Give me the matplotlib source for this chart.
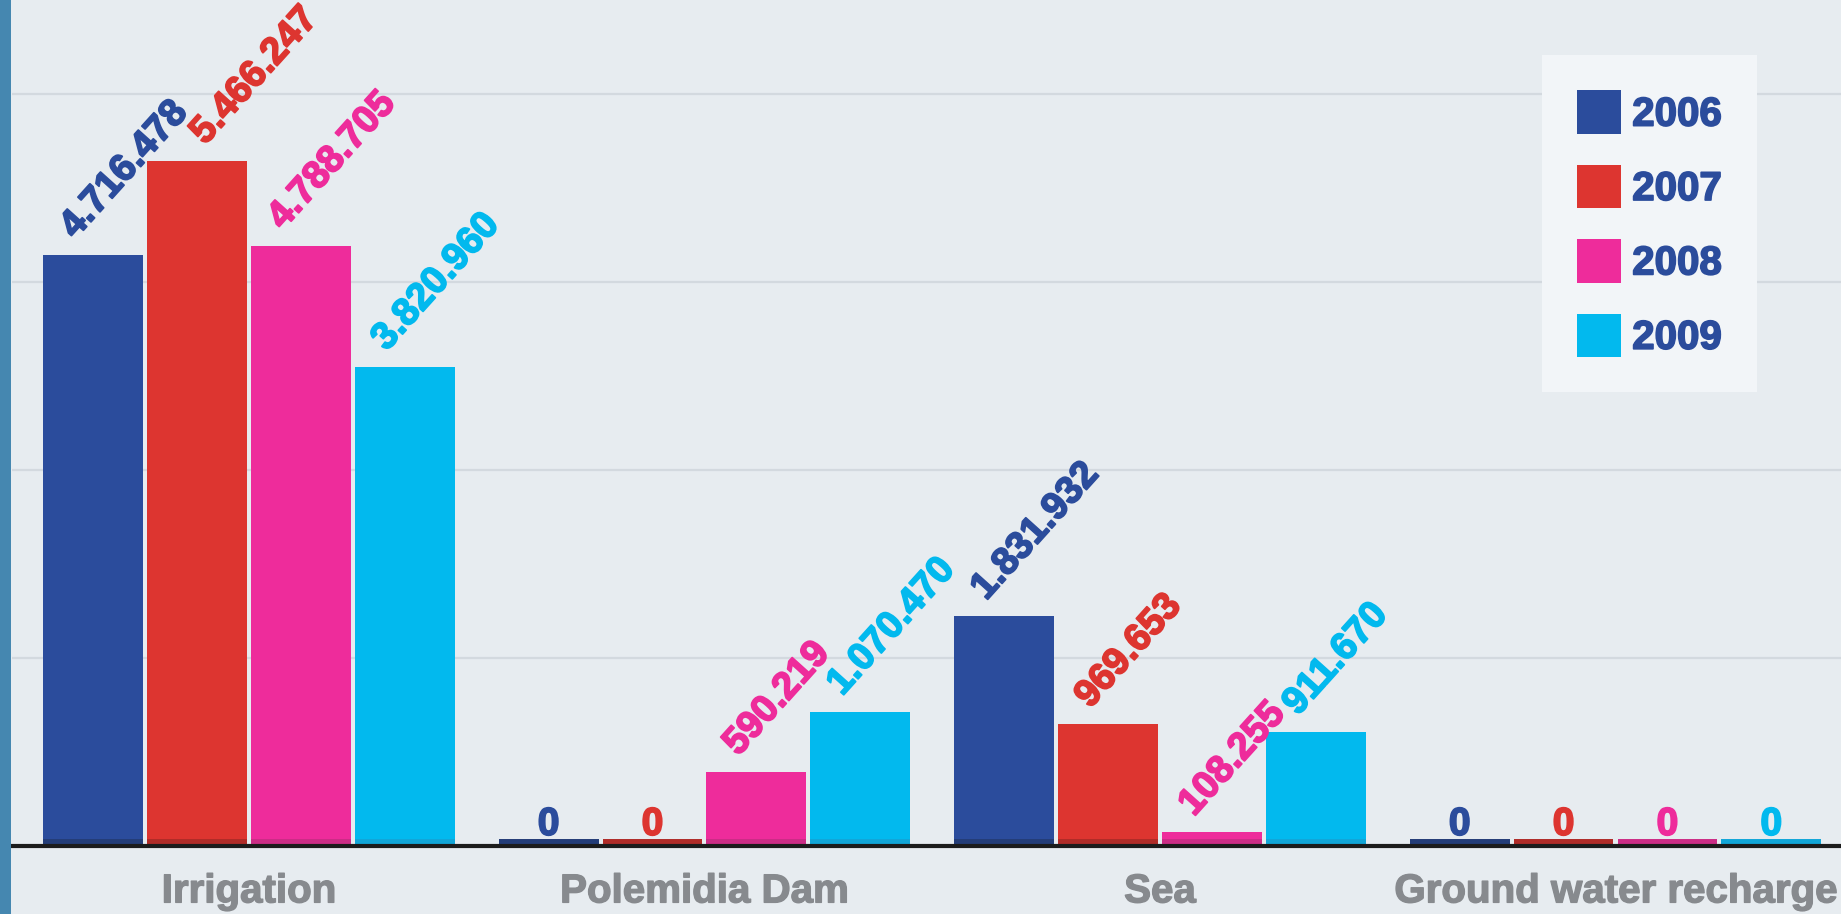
import numpy as np
import matplotlib.pyplot as plt
import matplotlib.patheffects as pe
from matplotlib.patches import Rectangle, Patch
from matplotlib.transforms import offset_copy

# data
categories = ['Irrigation', 'Polemidia Dam', 'Sea', 'Ground water recharge']
years = ['2006', '2007', '2008', '2009']
v2006 = [4716478, 0, 1831932, 0]
v2007 = [5466247, 0, 969653, 0]
v2008 = [4788705, 590219, 108255, 0]
v2009 = [3820960, 1070470, 911670, 0]
series = [v2006, v2007, v2008, v2009]

colors = ['#2b4c9c', '#dd3530', '#ee2c9b', '#02b9ee']
strip_colors = ['#243d78', '#b02c28', '#cc2d86', '#12a6d8']

W, H = 1841, 914
fig = plt.figure(figsize=(W / 100, H / 100), dpi=100)
fig.patch.set_facecolor('#e7ecf0')
fig.patches.append(Rectangle((0, 0), 11 / W, 1, transform=fig.transFigure,
                             facecolor='#4587b0', edgecolor='none', zorder=0))

ax = fig.add_axes([12 / W, 68 / H, 1 - 12 / W, 846 / H])
ax.set_facecolor('none')

x = np.arange(len(categories))
step = 0.228
width = 0.219
ANG = 48

ax.set_xlim(-0.52, 3.495)
ax.set_ylim(0, 6.75e6)

for y in [1.5e6, 3e6, 4.5e6, 6e6]:
    ax.axhline(y, color='#d3d9df', lw=1.6, zorder=0)

bold = lambda c, w=1.3: [pe.withStroke(linewidth=w, foreground=c)]

strip_tr = offset_copy(ax.transData, fig=fig, x=0, y=4, units='dots')
rot_labels = []
for j, vals in enumerate(series):
    xs = x + (j - 1.5) * step
    ax.bar(xs, vals, width=width, color=colors[j], zorder=2, label=years[j])
    ax.hlines([0] * len(xs), xs - width / 2, xs + width / 2, colors=strip_colors[j],
              lw=4.3, transform=strip_tr, zorder=2)
    for xi, v in zip(xs, vals):
        if v == 0:
            ax.annotate('0', xy=(xi, 0), xytext=(0, 8), textcoords='offset points',
                        ha='center', va='baseline', fontsize=28, fontweight='bold',
                        color=colors[j], family='Liberation Sans', zorder=4,
                        path_effects=bold(colors[j]))
        else:
            txt = '{:,}'.format(v).replace(',', '.')
            a = ax.annotate(txt, xy=(xi, v), xytext=(-13, 11), textcoords='offset points',
                            ha='left', va='baseline', rotation=ANG, rotation_mode='anchor',
                            fontsize=27.5, fontweight='bold', color=colors[j],
                            family='Liberation Sans', zorder=4, annotation_clip=False,
                            path_effects=bold(colors[j]))
            rot_labels.append(a)

for s in ['top', 'right', 'left']:
    ax.spines[s].set_visible(False)
ax.spines['bottom'].set_color('#1c1c1c')
ax.spines['bottom'].set_linewidth(3)
ax.spines['bottom'].set_zorder(3)

ax.set_yticks([])
ax.set_xticks(x)
ax.set_xticklabels(categories, fontsize=29, fontweight='bold', color='#878a8e',
                   family='Liberation Sans')
for t in ax.get_xticklabels():
    t.set_path_effects(bold('#878a8e', 1.0))
ax.tick_params(axis='x', length=0, pad=19)

handles = [Patch(facecolor=c, edgecolor='none') for c in colors]
leg = fig.legend(handles, years, loc='upper left', bbox_to_anchor=(1542 / W, 1 - 55 / H),
                 bbox_transform=fig.transFigure, borderaxespad=0, frameon=True,
                 fancybox=False, framealpha=1, facecolor='#f2f5f8', edgecolor='none',
                 prop={'family': 'Liberation Sans', 'weight': 'bold', 'size': 29},
                 handlelength=1.09, handleheight=1.28, handletextpad=0.27,
                 labelspacing=0.77, borderpad=0.88)
for t in leg.get_texts():
    t.set_color('#2b4c9c')
    t.set_path_effects(bold('#2b4c9c', 1.2))

# nudge rotated value labels to the right where they would run into each other
fig.canvas.draw()
rend = fig.canvas.get_renderer()
k = fig.dpi / 72
c, s = np.cos(np.radians(ANG)), np.sin(np.radians(ANG))
gap = 4
placed = []
rot_labels.sort(key=lambda a: a.xy[0])
for a in rot_labels:
    w_px = rend.get_text_width_height_descent(a.get_text(), a.get_fontproperties(), False)[0]
    hc = 0.78 * a.get_fontsize() * k
    ox, oy = a.xyann
    px, py = ax.transData.transform(a.xy)
    for _ in range(6):
        sx, sy = px + ox * k, py + oy * k
        u0, q0 = sx * c + sy * s, -sx * s + sy * c
        need = 0
        for (ui, qi, Li) in placed:
            if u0 < ui + Li + gap and u0 + w_px + gap > ui and q0 < qi + hc + gap and q0 + hc + gap > qi:
                dq = (q0 + hc + gap - qi) / s
                du = (ui + Li + gap - u0) / c
                need = max(need, min(dq, du))
        if need <= 0:
            break
        ox += need / k
    a.xyann = (ox, oy)
    sx, sy = px + ox * k, py + oy * k
    placed.append((sx * c + sy * s, -sx * s + sy * c, w_px))

plt.savefig('out.png', dpi=100, facecolor=fig.get_facecolor())
